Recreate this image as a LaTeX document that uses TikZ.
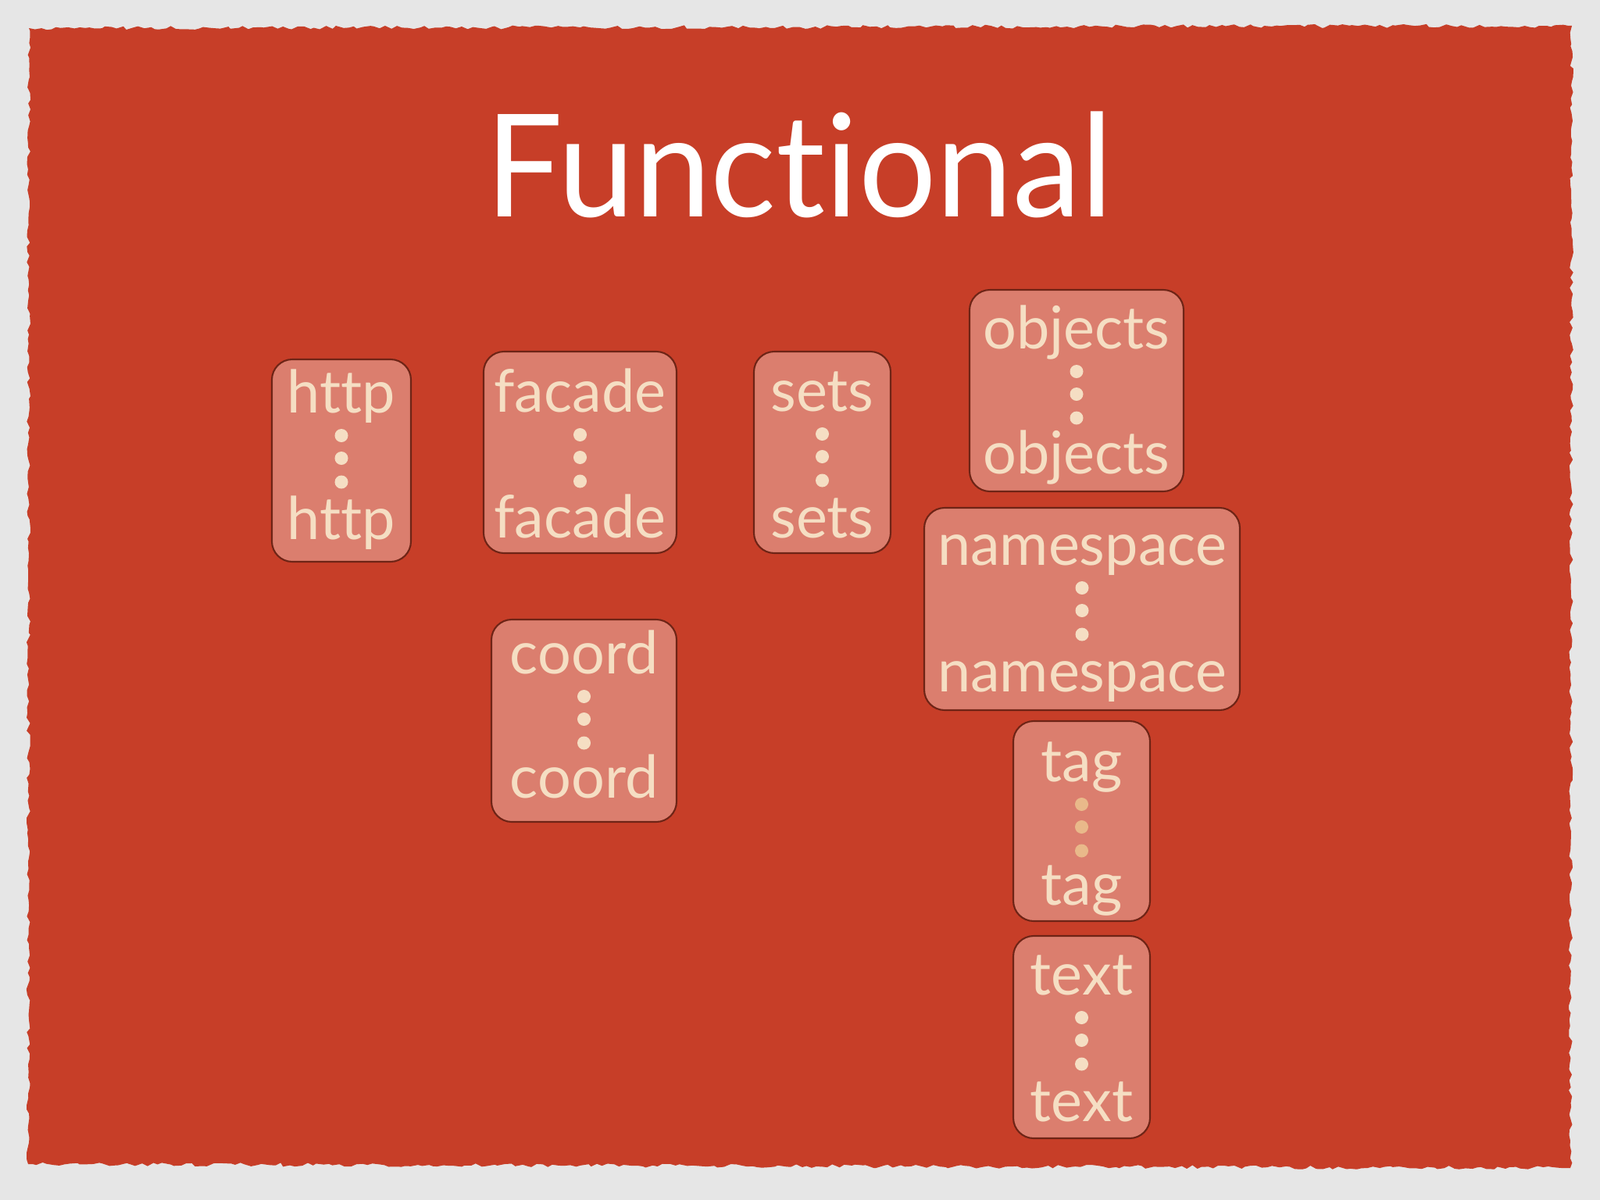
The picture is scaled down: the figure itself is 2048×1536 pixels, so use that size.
\documentclass[tikz,border=0pt]{standalone}
\usepackage{fontspec}
\setmainfont[Ligatures=NoCommon]{Lato}
\usetikzlibrary{decorations.pathmorphing}
\definecolor{paper}{HTML}{E6E6E6}
\definecolor{slide}{HTML}{C73E28}
\definecolor{boxfill}{HTML}{DB7E6E}
\definecolor{boxline}{HTML}{6E2416}
\definecolor{cream}{HTML}{F5DEC3}
\definecolor{tagdot}{HTML}{E9B98A}
\tikzset{
  stackbox/.style={draw=boxline, line width=0.6pt, fill=boxfill, rounded corners=0.26cm, inner sep=0pt},
  lbl/.style={text=cream, font=\fontsize{21.5}{24}\selectfont, inner sep=0pt, anchor=base},
}
% [dot colour]{name}{left}{top}{right}{bottom}{top baseline}{bottom baseline}{label}
\newcommand\stackit[9][cream]{%
  \node[stackbox, minimum width={(#5-#3)*0.01cm}, minimum height={(#6-#4)*0.01cm}] (#2) at ({(#3+#5)/2},{(#4+#6)/2}) {};
  \node[lbl] (#2-a) at (#2.north |- 0,#7) {#9};
  \node[lbl] (#2-b) at (#2.north |- 0,#8) {#9};
  \foreach \d in {29.5,58.5,89} {
    \fill[#1] (#2.north |- 0,{#7+\d}) circle (0.085cm);
  }
}
\begin{document}
\begin{tikzpicture}[x=0.01cm,y=-0.01cm]
\useasboundingbox (0,0) rectangle (2048,1536);
\fill[paper] (0,0) rectangle (2048,1536);
\fill[slide, decorate, decoration={random steps, segment length=2pt, amplitude=0.7pt}] (37,36) -- (2012,33) -- (2010,1495) -- (36,1490) -- cycle;
\node[text=white, font=\fontsize{52}{60}\selectfont, anchor=base, inner sep=0pt, xscale=0.96] (title) at (1023,277) {Functional};
\stackit{http}{348}{460}{526}{719}{528}{690}{http}
\stackit{facade}{619}{450}{866}{708}{527}{688}{facade}
\stackit{sets}{965}{450}{1140}{708}{526}{688}{sets}
\stackit{objects}{1241}{371}{1515}{629}{446}{606}{objects}
\stackit{namespace}{1183}{650}{1587}{909}{723}{885}{namespace}
\stackit{coord}{629}{793}{866}{1052}{862}{1021}{coord}
\stackit[tagdot]{tag}{1297}{923}{1472}{1179}{1000}{1158}{tag}
\stackit{text}{1297}{1198}{1472}{1457}{1273}{1435}{text}
\end{tikzpicture}
\end{document}
